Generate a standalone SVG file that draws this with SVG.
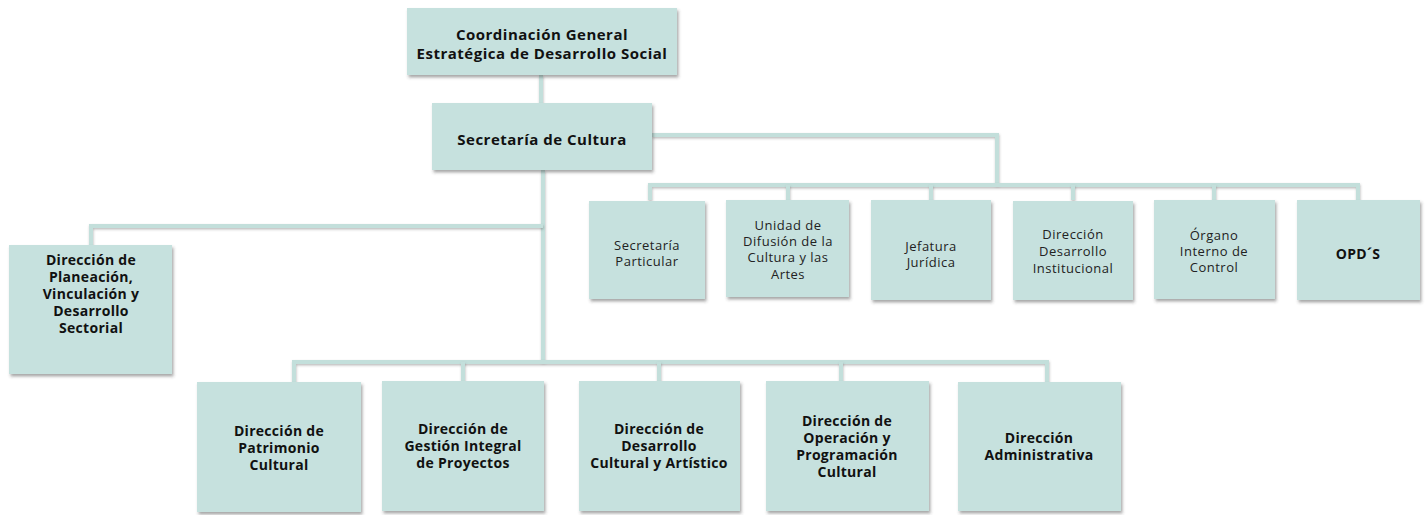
<svg xmlns="http://www.w3.org/2000/svg" width="1428" height="515" viewBox="0 0 1428 515">
<defs>
<filter id="sh" x="-10%" y="-10%" width="125%" height="130%">
<feDropShadow dx="1.5" dy="2.5" stdDeviation="1.5" flood-color="#404040" flood-opacity="0.45"/>
</filter>
<filter id="lsh" filterUnits="userSpaceOnUse" x="0" y="0" width="1428" height="515">
<feDropShadow dx="0.5" dy="1.5" stdDeviation="1" flood-color="#404040" flood-opacity="0.35"/>
</filter>
</defs>
<style>
.box{fill:#c6e1de;filter:url(#sh)}
.ln{fill:none;stroke:#c3dfdb;stroke-width:4;stroke-linejoin:miter;filter:url(#lsh)}
.b{font-family:"Open Sans","Liberation Sans",sans-serif;font-weight:700;font-size:14px;fill:#111;text-anchor:middle;letter-spacing:0.3px}
.t{font-size:15px;letter-spacing:0.5px}
.r{font-family:"Open Sans","Liberation Sans",sans-serif;font-weight:400;font-size:13px;fill:#222;text-anchor:middle;letter-spacing:0.5px}
</style>
<rect width="1428" height="515" fill="#ffffff"/>
<g id="connectors">
<path class="ln" d="M541,75 V103"/>
<path class="ln" d="M652,135 H997 V185"/>
<path class="ln" d="M650,200 V185 H1358 V200"/>
<path class="ln" d="M788,185 V200 M931,185 V200 M1073,185 V200 M1214,185 V200"/>
<path class="ln" d="M543,170 V362"/>
<path class="ln" d="M91,245 V226 H543"/>
<path class="ln" d="M294,382 V362 H1047 V382"/>
<path class="ln" d="M463,362 V381 M659,362 V381 M841,362 V381"/>
</g>
<g id="n-coord">
<rect class="box" x="407" y="8" width="270" height="67"/>
<text class="b t" x="542" y="40">Coordinación General</text>
<text class="b t" x="542" y="59">Estratégica de Desarrollo Social</text>
</g>
<g id="n-secretaria">
<rect class="box" x="432" y="103" width="220" height="67"/>
<text class="b t" x="542" y="145">Secretaría de Cultura</text>
</g>
<g id="n-particular">
<rect class="box" x="589" y="201" width="116" height="98"/>
<text class="r" x="647" y="250">Secretaría</text>
<text class="r" x="647" y="266">Particular</text>
</g>
<g id="n-difusion">
<rect class="box" x="726" y="200" width="123" height="97"/>
<text class="r" x="788" y="230">Unidad de</text>
<text class="r" x="788" y="246">Difusión de la</text>
<text class="r" x="788" y="262">Cultura y las</text>
<text class="r" x="788" y="279">Artes</text>
</g>
<g id="n-juridica">
<rect class="box" x="871" y="200" width="120" height="100"/>
<text class="r" x="931" y="251">Jefatura</text>
<text class="r" x="931" y="267">Jurídica</text>
</g>
<g id="n-institucional">
<rect class="box" x="1013" y="201" width="120" height="99"/>
<text class="r" x="1073" y="239">Dirección</text>
<text class="r" x="1073" y="256">Desarrollo</text>
<text class="r" x="1073" y="273">Institucional</text>
</g>
<g id="n-organo">
<rect class="box" x="1154" y="200" width="121" height="99"/>
<text class="r" x="1214" y="240">Órgano</text>
<text class="r" x="1214" y="256">Interno de</text>
<text class="r" x="1214" y="272">Control</text>
</g>
<g id="n-opds">
<rect class="box" x="1297" y="200" width="123" height="100"/>
<text class="b" font-size="13" x="1358" y="259">OPD´S</text>
</g>
<g id="n-planeacion">
<rect class="box" x="9" y="245" width="163" height="129"/>
<text class="b" x="91" y="265">Dirección de</text>
<text class="b" x="91" y="282">Planeación,</text>
<text class="b" x="91" y="299">Vinculación y</text>
<text class="b" x="91" y="316">Desarrollo</text>
<text class="b" x="91" y="333">Sectorial</text>
</g>
<g id="n-patrimonio">
<rect class="box" x="197" y="382" width="164" height="130"/>
<text class="b" x="279" y="436">Dirección de</text>
<text class="b" x="279" y="453">Patrimonio</text>
<text class="b" x="279" y="470">Cultural</text>
</g>
<g id="n-gestion">
<rect class="box" x="382" y="381" width="162" height="130"/>
<text class="b" x="463" y="434">Dirección de</text>
<text class="b" x="463" y="451">Gestión Integral</text>
<text class="b" x="463" y="468">de Proyectos</text>
</g>
<g id="n-desarrollo">
<rect class="box" x="579" y="381" width="161" height="130"/>
<text class="b" x="659" y="434">Dirección de</text>
<text class="b" x="659" y="451">Desarrollo</text>
<text class="b" x="659" y="468">Cultural y Artístico</text>
</g>
<g id="n-operacion">
<rect class="box" x="766" y="381" width="163" height="130"/>
<text class="b" x="847" y="426">Dirección de</text>
<text class="b" x="847" y="443">Operación y</text>
<text class="b" x="847" y="460">Programación</text>
<text class="b" x="847" y="477">Cultural</text>
</g>
<g id="n-administrativa">
<rect class="box" x="958" y="382" width="163" height="129"/>
<text class="b" x="1039" y="443">Dirección</text>
<text class="b" x="1039" y="460">Administrativa</text>
</g>
</svg>
